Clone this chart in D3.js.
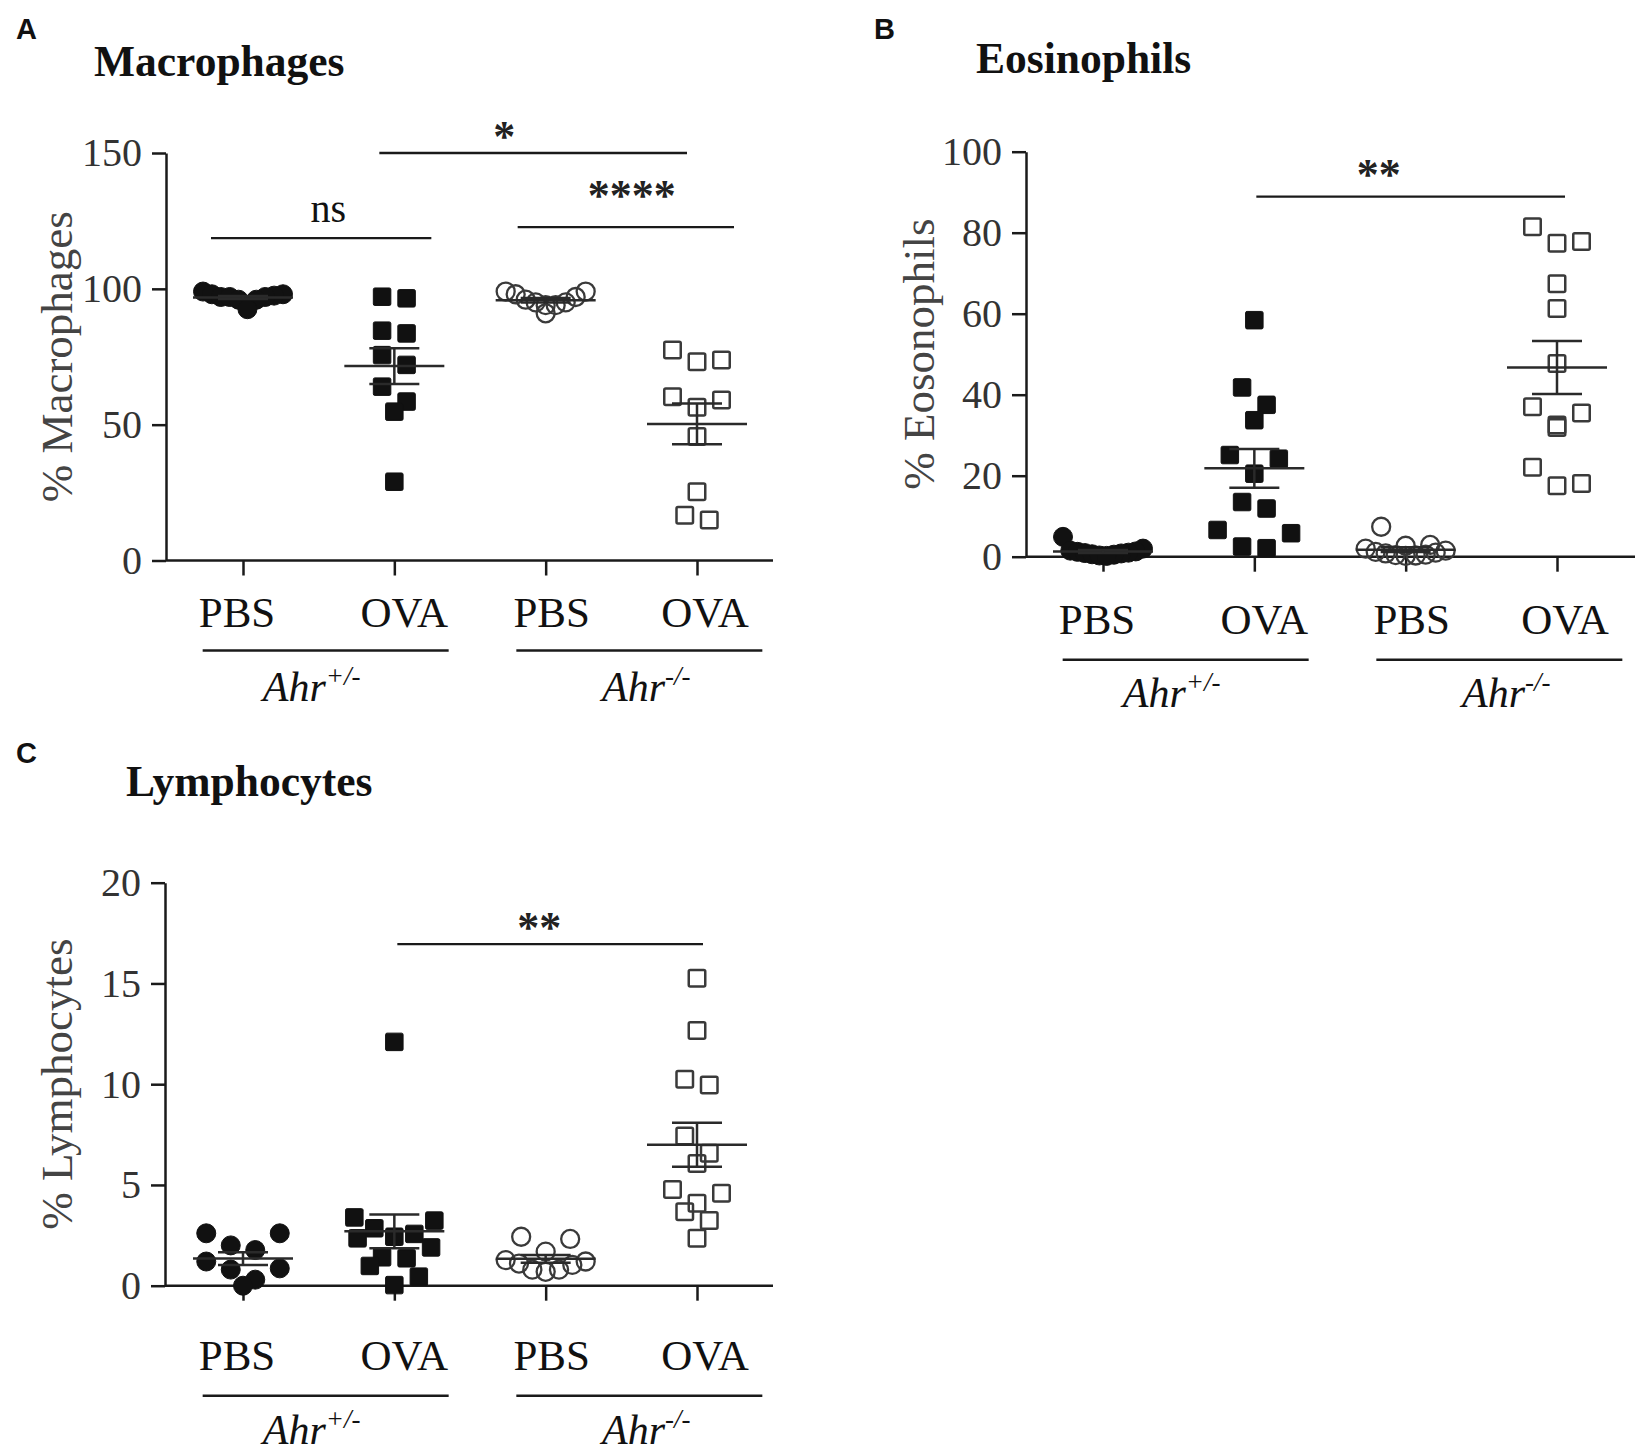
<!DOCTYPE html>
<html lang="en">
<head>
<meta charset="UTF-8">
<title>Macrophages, eosinophils and lymphocytes in Ahr mice</title>
<style>
  body { margin: 0; background: #fff; }
  svg { display: block; background: #fff; }
  text { font-family: "Liberation Serif", "Times New Roman", serif; fill: #111; }
  .letter { font-family: "Liberation Sans", Arial, sans-serif; font-weight: bold; font-size: 29px; }
  .title { font-weight: bold; font-size: 43.5px; }
  .tick text { font-size: 40px; fill: #333; font-family: "Liberation Serif", serif; }
  .tick line, .domain { stroke: #1a1a1a; stroke-width: 2.5px; }
  .ylab { font-size: 45px; fill: #444; }
  .cat { font-size: 43px; }
  .geno { font-size: 42px; font-style: italic; }
  .sig { font-size: 40px; }
  .stars { font-size: 44px; font-weight: bold; fill: #222; }
</style>
</head>
<body>
<svg id="fig" width="1642" height="1454"></svg>
<script src="https://d3js.org/d3.v7.min.js"></script>
<script>
// ---- data ----
const treatments = ["PBS", "OVA", "PBS", "OVA"];
const genotypes = ["+/-", "-/-"];
// symbol per group: PBS Ahr+/- filled circle, OVA Ahr+/- filled square, then open versions
const symbolKinds = ["circle", "square", "circle", "square"];
const symbolFilled = [true, true, false, false];

const macrophages = [
  [97, 98, 96, 98, 92.5, 97, 99, 97.5, 96, 97],
  [96.5, 97.1, 83.6, 84.6, 75.6, 72, 64, 58.5, 54.8, 29],
  [95, 97, 99, 94, 98, 91, 94, 96, 99, 95],
  [77.5, 73.2, 73.8, 59.1, 60.3, 56.4, 45.6, 25.3, 14.9, 16.7]
];
const eosinophils = [
  [0.5, 1.2, 0.3, 1.5, 0.8, 2.0, 0.2, 1.0, 4.9, 0.6, 1.3, 0.9],
  [58.4, 41.8, 37.5, 33.7, 25.1, 24.2, 20.5, 13.5, 11.9, 5.8, 6.6, 2.1, 2.5],
  [7.4, 2.9, 2.7, 1.5, 1.0, 0.5, 0.2, 0.4, 0.8, 1.2, 2.0, 0.3],
  [81.5, 77.4, 77.8, 67.4, 61.3, 47.7, 37.0, 32.5, 31.9, 35.5, 22.1, 17.5, 18.1]
];
const lymphocytes = [
  [2.6, 2.6, 2.0, 1.77, 1.2, 0.8, 0.86, 0.3, 0.0],
  [12.1, 3.23, 2.35, 2.57, 2.85, 3.39, 2.43, 1.9, 1.41, 1.36, 0.98, 0.03, 0.45],
  [2.43, 2.32, 1.69, 1.27, 1.2, 1.1, 0.8, 0.69, 0.8, 1.03],
  [15.26, 12.66, 9.96, 10.24, 7.43, 6.57, 6.07, 4.78, 4.59, 4.09, 3.67, 3.23, 2.35]
];

// significance brackets: groups compared, label, height in data units
const macroSig = [
  { from: 1, to: 3, label: "*", level: 150 },
  { from: 0, to: 1, label: "ns", level: 118.7 },
  { from: 2, to: 3, label: "****", level: 122.7 }
];
const eosSig = [{ from: 1, to: 3, label: "**", level: 88.9 }];
const lymSig = [{ from: 1, to: 3, label: "**", level: 16.95 }];

// ---- layout ----
const catShift = [-6, 10, 6, 8];
const panels = [
  { letter: "A", letterPos: [16, 39], title: "Macrophages", titlePos: [94, 76],
    yLabel: "% Macrophages", yLabelX: 72, values: macrophages, sig: macroSig,
    yMax: 150, yStep: 50, yTop: 153, yBot: 560.5, axisX: 166, xEnd: 773, cat0: 243, cat3: 697,
    catDy: 66, lineDy: 90, genoDy: 140,
    sigLayout: [ { x0: -15, x1: -10, tx: -29, base: 2 },
                 { x0: -32, x1: 37, tx: 7, base: 16 },
                 { x0: -28, x1: 37, tx: 6, base: 17 } ] },
  { letter: "B", letterPos: [874, 39], title: "Eosinophils", titlePos: [976, 73],
    yLabel: "% Eosonophils", yLabelX: 934, values: eosinophils, sig: eosSig,
    yMax: 100, yStep: 20, yTop: 151.7, yBot: 556.7, axisX: 1026, xEnd: 1635, cat0: 1103, cat3: 1557,
    catDy: 77, lineDy: 103, genoDy: 150,
    sigLayout: [ { x0: 2, x1: 8, tx: -32, base: 8 } ] },
  { letter: "C", letterPos: [16, 763], title: "Lymphocytes", titlePos: [126, 796],
    yLabel: "% Lymphocytes", yLabelX: 72, values: lymphocytes, sig: lymSig,
    yMax: 20, yStep: 5, yTop: 882.7, yBot: 1285.7, axisX: 165, xEnd: 773, cat0: 243, cat3: 697,
    catDy: 84, lineDy: 110, genoDy: 158,
    sigLayout: [ { x0: 3, x1: 6, tx: -11, base: 2 } ] }
];

const ink = "#1a1a1a";
const svg = d3.select("#fig");
svg.append("rect").attr("width", 1642).attr("height", 1454).attr("fill", "#fff");

// GraphPad-like scatter: values grouped into rows, each row spread sideways
function swarm(vals, y, cx) {
  const sorted = vals.slice().sort((a, b) => b - a);
  const rows = [];
  let cur = null;
  sorted.forEach(v => {
    if (cur && y(v) - y(cur[0]) <= 20) cur.push(v);
    else { cur = [v]; rows.push(cur); }
  });
  const out = [];
  rows.forEach(row => {
    const n = row.length,
          step = n > 1 ? Math.min(24.5, 80 / (n - 1)) : 0;
    let lo = 0, hi = n - 1;
    row.forEach((v, k) => {
      const slot = k % 2 === 0 ? lo++ : hi--;
      out.push({ v, x: cx + (slot - (n - 1) / 2) * step, y: y(v) });
    });
  });
  return out;
}

panels.forEach(p => {
  const g = svg.append("g");
  const y = d3.scaleLinear().domain([0, p.yMax]).range([p.yBot, p.yTop]);
  const x = d3.scalePoint().domain(d3.range(4)).range([p.cat0, p.cat3]);

  g.append("text").attr("class", "letter").attr("x", p.letterPos[0]).attr("y", p.letterPos[1]).text(p.letter);
  g.append("text").attr("class", "title").attr("x", p.titlePos[0]).attr("y", p.titlePos[1]).text(p.title);

  // y axis
  g.append("g")
    .attr("transform", `translate(${p.axisX},0)`)
    .call(d3.axisLeft(y).tickValues(d3.range(0, p.yMax + 0.001, p.yStep))
      .tickSize(14).tickSizeOuter(0).tickPadding(10));

  g.append("text").attr("class", "ylab")
    .attr("transform", `translate(${p.yLabelX},${(p.yTop + p.yBot) / 2}) rotate(-90)`)
    .attr("text-anchor", "middle").text(p.yLabel);

  // x axis
  g.append("line").attr("x1", p.axisX).attr("x2", p.xEnd)
    .attr("y1", p.yBot).attr("y2", p.yBot)
    .attr("stroke", ink).attr("stroke-width", 2.5);
  const xa = g.append("g")
    .attr("transform", `translate(0,${p.yBot})`)
    .call(d3.axisBottom(x).tickSize(15).tickFormat(""));
  xa.select(".domain").remove();

  treatments.forEach((t, i) => {
    g.append("text").attr("class", "cat")
      .attr("x", x(i) + catShift[i]).attr("y", p.yBot + p.catDy)
      .attr("text-anchor", "middle").text(t);
  });

  genotypes.forEach((gt, k) => {
    const mid = (x(2 * k) + x(2 * k + 1)) / 2,
          lineMid = mid + (k === 0 ? 7 : 18),
          labMid = mid + (k === 0 ? -7 : 25);
    g.append("line")
      .attr("x1", lineMid - 123).attr("x2", lineMid + 123)
      .attr("y1", p.yBot + p.lineDy).attr("y2", p.yBot + p.lineDy)
      .attr("stroke", ink).attr("stroke-width", 2.5);
    const tx = g.append("text").attr("class", "geno")
      .attr("x", labMid).attr("y", p.yBot + p.genoDy)
      .attr("text-anchor", "middle");
    tx.append("tspan").text("Ahr");
    tx.append("tspan").attr("dy", -16).attr("font-size", 27).text(gt);
  });

  // points
  p.values.forEach((vals, i) => {
    const pts = swarm(vals, y, x(i));
    const filled = symbolFilled[i];
    const sel = g.append("g").selectAll("g").data(pts).join("g");
    if (symbolKinds[i] === "circle") {
      sel.append("circle").attr("cx", d => d.x).attr("cy", d => d.y).attr("r", filled ? 9.5 : 9)
        .attr("fill", filled ? "#111" : "none")
        .attr("stroke", filled ? "#111" : "#3a3a3a").attr("stroke-width", filled ? 1 : 2.3);
    } else {
      const s = filled ? 17.5 : 16.5;
      sel.append("rect").attr("x", d => d.x - s / 2).attr("y", d => d.y - s / 2)
        .attr("width", s).attr("height", s).attr("rx", 1.5)
        .attr("fill", filled ? "#111" : "none")
        .attr("stroke", filled ? "#111" : "#3a3a3a").attr("stroke-width", filled ? 1 : 2.5);
    }

    // mean +/- SEM
    const m = d3.mean(vals), se = d3.deviation(vals) / Math.sqrt(vals.length), cx = x(i);
    const eg = g.append("g").attr("stroke", "#2a2a2a").attr("stroke-width", 2.5);
    eg.append("line").attr("x1", cx - 50).attr("x2", cx + 50).attr("y1", y(m)).attr("y2", y(m));
    eg.append("line").attr("x1", cx - 25).attr("x2", cx + 25).attr("y1", y(m + se)).attr("y2", y(m + se));
    eg.append("line").attr("x1", cx - 25).attr("x2", cx + 25).attr("y1", y(m - se)).attr("y2", y(m - se));
    eg.append("line").attr("x1", cx).attr("x2", cx).attr("y1", y(m + se)).attr("y2", y(m - se));
  });

  // significance brackets
  p.sig.forEach((s, k) => {
    const L = p.sigLayout[k],
          xa0 = x(s.from) + L.x0, xa1 = x(s.to) + L.x1, yy = y(s.level);
    g.append("line").attr("x1", xa0).attr("x2", xa1).attr("y1", yy).attr("y2", yy)
      .attr("stroke", ink).attr("stroke-width", 2.3);
    g.append("text").attr("class", s.label.startsWith("*") ? "stars" : "sig")
      .attr("x", (xa0 + xa1) / 2 + L.tx).attr("y", yy - L.base)
      .attr("text-anchor", "middle").text(s.label);
  });
});
</script>
</body>
</html>
